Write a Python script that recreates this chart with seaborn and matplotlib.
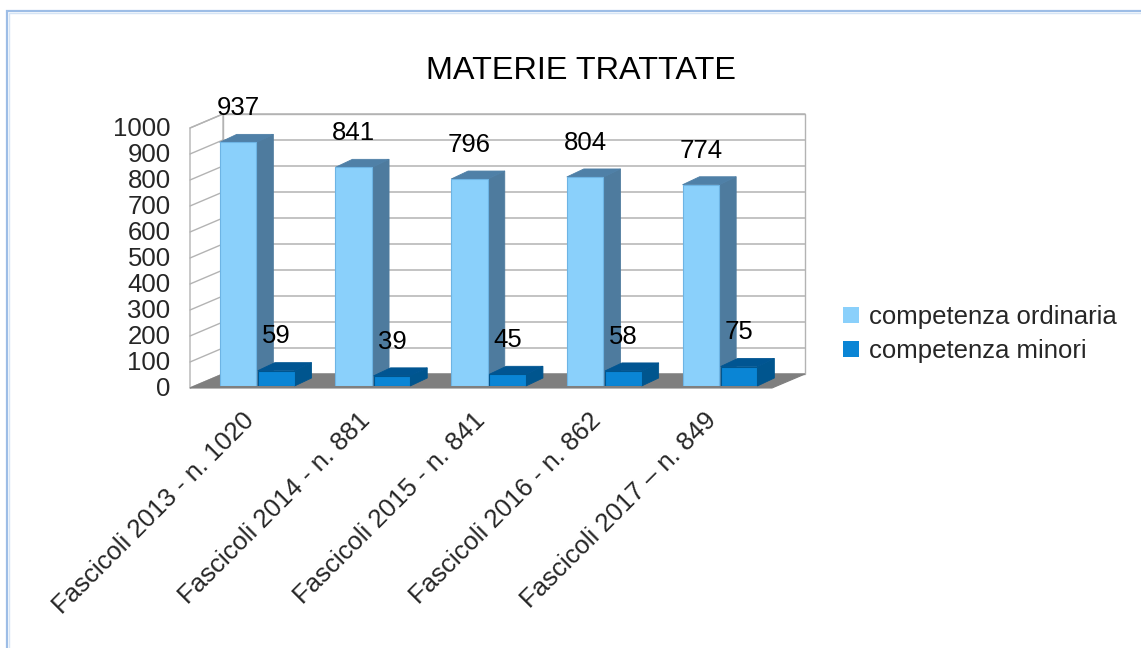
import numpy as np
import pandas as pd
import matplotlib
matplotlib.use("Agg")
import matplotlib.pyplot as plt
from matplotlib.patches import Polygon, Rectangle, Patch
from matplotlib.transforms import ScaledTranslation
import seaborn as sns

# ---- data ----
fascicoli = [
    "Fascicoli 2013 - n. 1020",
    "Fascicoli 2014 - n. 881",
    "Fascicoli 2015 - n. 841",
    "Fascicoli 2016 - n. 862",
    "Fascicoli 2017 \u2013 n. 849",
]
competenza_ordinaria = [937, 841, 796, 804, 774]
competenza_minori = [59, 39, 45, 58, 75]
serie = ["competenza ordinaria", "competenza minori"]
y_ticks = list(range(0, 1001, 100))
titolo = "MATERIE TRATTATE"

# ---- style ----
front_cols = ["#8ad0fb", "#0a85d5"]
side_cols = ["#4e7b9e", "#00558e"]
top_cols = ["#4f80a7", "#005592"]
grid_col = "#b3b3b3"
floor_col = "#7f7f7f"
FS = 18.5

sns.set_theme(style="white")
plt.rcParams["font.family"] = ["Liberation Sans", "DejaVu Sans"]

W, H = 1141, 648
fig = plt.figure(figsize=(W / 100, H / 100), dpi=100)
fig.patch.set_facecolor("white")

# axes = front plane of the bars (pixel geometry)
ax_left, ax_right = 190, 772
ax_top, ax_bottom = 126, 386
ax = fig.add_axes([ax_left / W, (H - ax_bottom) / H,
                   (ax_right - ax_left) / W, (ax_bottom - ax_top) / H])

df = pd.DataFrame({
    "fascicolo": fascicoli * 2,
    "materie": competenza_ordinaria + competenza_minori,
    "competenza": [serie[0]] * len(fascicoli) + [serie[1]] * len(fascicoli),
})

sns.barplot(data=df, x="fascicolo", y="materie", hue="competenza",
            hue_order=serie, palette=front_cols, saturation=1,
            width=0.66, gap=0.04, legend=False, ax=ax,
            edgecolor="none", linewidth=0)

x0, x1 = -0.58, 4.45
ax.set_xlim(x0, x1)
ax.set_ylim(0, 1000)
for s in ax.spines.values():
    s.set_visible(False)
ax.set_facecolor("none")
ax.grid(False)

# pixel -> data conversions for the depth effect
fig.canvas.draw()
p0 = ax.transData.transform((0, 0))
px_x = ax.transData.transform((1, 0))[0] - p0[0]
px_y = (ax.transData.transform((0, 100))[1] - p0[1]) / 100.0


def off(x, y, dx, dy):
    """Shift a data point by (dx, dy) display pixels (dy upwards)."""
    return (x + dx / px_x, y + dy / px_y)


# box planes: front slightly below bar base, back shifted right/up
FDX, FDY = 0, -2
BDX, BDY = 33, 12

# back wall
back = [off(x0, 0, BDX, BDY), off(x1, 0, BDX, BDY),
        off(x1, 1000, BDX, BDY), off(x0, 1000, BDX, BDY)]
ax.add_patch(Polygon(back, closed=True, facecolor="white", edgecolor=grid_col,
                     lw=1, zorder=0, clip_on=False))
for v in y_ticks:
    a = off(x0, v, BDX, BDY)
    b = off(x1, v, BDX, BDY)
    ax.plot([a[0], b[0]], [a[1], b[1]], color=grid_col, lw=1.1,
            zorder=0.5, clip_on=False)

# left wall
left = [off(x0, 0, FDX, FDY), off(x0, 1000, FDX, FDY),
        off(x0, 1000, BDX, BDY), off(x0, 0, BDX, BDY)]
ax.add_patch(Polygon(left, closed=True, facecolor="white", edgecolor=grid_col,
                     lw=1, zorder=0, clip_on=False))
for v in y_ticks:
    a = off(x0, v, FDX, FDY)
    b = off(x0, v, BDX, BDY)
    ax.plot([a[0], b[0]], [a[1], b[1]], color=grid_col, lw=1,
            zorder=0.5, clip_on=False)

# floor
floor = [off(x0, 0, FDX, FDY), off(x1, 0, FDX, FDY),
         off(x1, 0, BDX, BDY), off(x0, 0, BDX, BDY)]
ax.add_patch(Polygon(floor, closed=True, facecolor=floor_col,
                     edgecolor=floor_col, lw=0.8, zorder=0.8, clip_on=False))

# bar depth faces
DDX, DDY = 17, 8
for i, cont in enumerate(ax.containers):
    zf = 3 + 2 * i
    for bar in cont:
        bar.set_zorder(zf + 1)
        bar.set_edgecolor(side_cols[i] if i else "#6db4e4")
        bar.set_linewidth(0.8)
        bx, bw, bh = bar.get_x(), bar.get_width(), bar.get_height()
        side = [(bx + bw, 0), (bx + bw, bh),
                off(bx + bw, bh, DDX, DDY), off(bx + bw, 0, DDX, DDY)]
        top = [(bx, bh), (bx + bw, bh),
               off(bx + bw, bh, DDX, DDY), off(bx, bh, DDX, DDY)]
        ax.add_patch(Polygon(side, closed=True, facecolor=side_cols[i],
                             edgecolor=side_cols[i], lw=0.6, zorder=zf,
                             clip_on=False))
        ax.add_patch(Polygon(top, closed=True, facecolor=top_cols[i],
                             edgecolor=top_cols[i], lw=0.6, zorder=zf,
                             clip_on=False))
    ax.bar_label(cont, padding=16, fontsize=FS, color="black", zorder=10)

# axis labels
ax.set_yticks(y_ticks)
ax.set_yticklabels([str(v) for v in y_ticks], fontsize=FS)
ax.tick_params(axis="y", length=0, pad=14)
ax.set_xlabel("")
ax.set_ylabel("")
ax.set_xticks(range(len(fascicoli)))
ax.set_xticklabels(fascicoli, rotation=45, ha="right", va="center",
                   rotation_mode="anchor", fontsize=FS)
ax.tick_params(axis="x", length=0, pad=22)
shift = ScaledTranslation(-5 / 72, 0, fig.dpi_scale_trans)
for lab in ax.get_xticklabels():
    lab.set_transform(lab.get_transform() + shift)

# title
fig.text(581 / W, 1 - 71 / H, titolo, fontsize=23.3, ha="center",
         va="center", color="black")

# legend
handles = [Patch(facecolor=c, edgecolor="none") for c in front_cols]
fig.legend(handles, serie, loc="center left",
           bbox_to_anchor=(843 / W, 1 - 334 / H), frameon=False,
           fontsize=FS, handlelength=0.62, handleheight=0.6,
           handletextpad=0.4, labelspacing=0.38, borderpad=0,
           borderaxespad=0)

# outer frame
fig.patches.append(Rectangle((7 / W, -0.05), 1.2, 1 - 11 / H + 0.05,
                             transform=fig.transFigure, fill=False,
                             edgecolor="#9dbde6", lw=1.6, zorder=0))
fig.patches.append(Rectangle((9 / W, -0.05), 1.2, 1 - 13 / H + 0.05,
                             transform=fig.transFigure, fill=False,
                             edgecolor="#d5e4f5", lw=1.0, zorder=0))

fig.savefig("out.png", dpi=100)
